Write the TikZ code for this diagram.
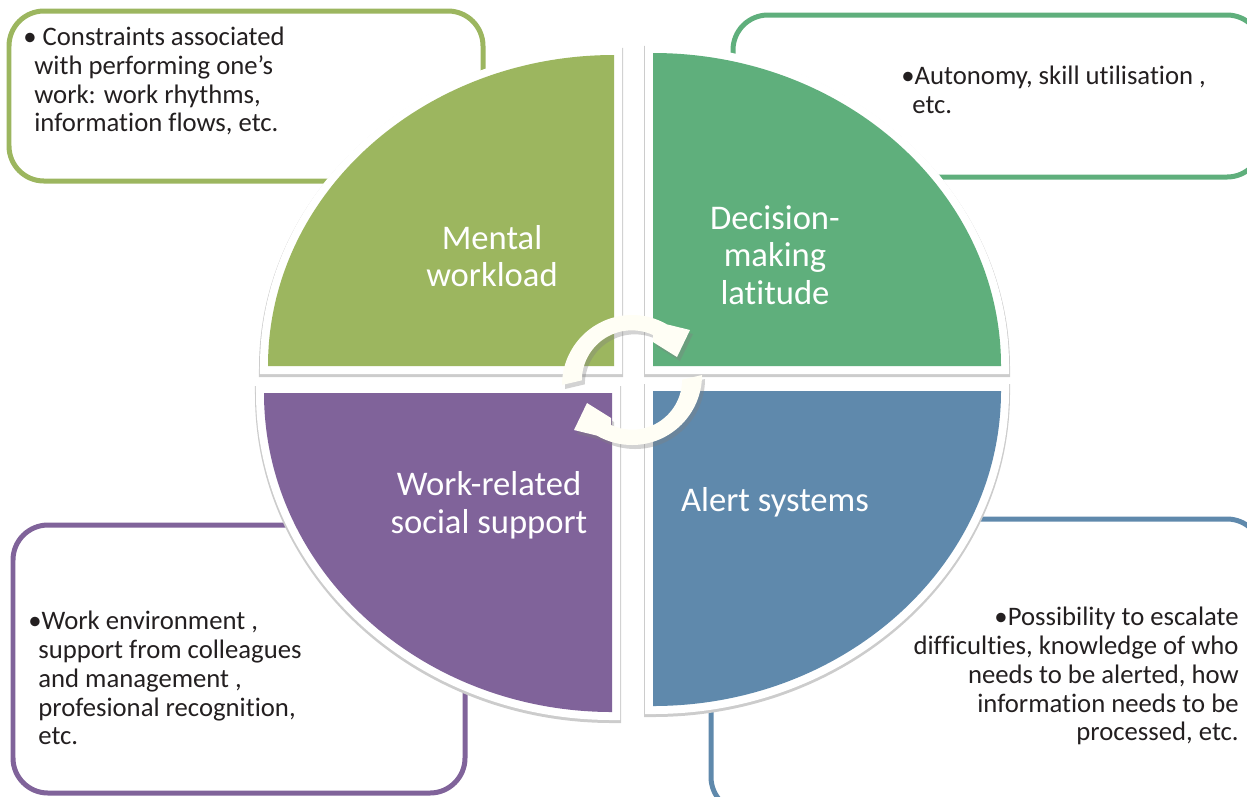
\documentclass[tikz,border=0pt]{standalone}
\usepackage{fontspec}
\setmainfont[Ligatures=NoCommon]{Carlito}
\usepackage{tikz}

\definecolor{mentalcol}{HTML}{9CB65F}
\definecolor{decisioncol}{HTML}{5FAF7C}
\definecolor{supportcol}{HTML}{80639A}
\definecolor{alertcol}{HTML}{5F89AC}
\definecolor{bodycol}{HTML}{231F20}

\tikzset{
    frame/.style={line width=0.1cm, rounded corners=0.7cm},
    wedge/.style={fill=#1, preaction={draw=gray!40, line width=0.36cm, transform canvas={yshift=-0.04cm}},
        preaction={draw=white, line width=0.32cm}},
    title/.style={text=white, align=center, inner sep=0pt, font=\fontsize{19.7}{21.5}\selectfont},
    body/.style={text=bodycol, inner sep=0pt, font=\fontsize{15.2}{16.45}\selectfont},
}

\begin{document}
\begin{tikzpicture}[x=0.02cm, y=-0.02cm]
    \clip (0,0) rectangle (1247,796);

    \draw[frame, draw=mentalcol]   (9,11)    rectangle (483,181);
    \draw[frame, draw=decisioncol] (733,15)  rectangle (1262,177);
    \draw[frame, draw=supportcol]  (13,525)  rectangle (465,793);
    \draw[frame, draw=alertcol]    (711,519) rectangle (1262,812);

    \path[wedge=supportcol]  (612,393) -- (264,393) arc[start angle=180, end angle=90, x radius=348, y radius=319] -- cycle;
    \path[wedge=alertcol]    (653,391) -- (1001,391) arc[start angle=0, end angle=90, x radius=348, y radius=315] -- cycle;
    \path[wedge=mentalcol]   (614,366) -- (268,366) arc[start angle=180, end angle=270, x radius=346, y radius=311] -- cycle;
    \path[wedge=decisioncol] (653,366) -- (1001,366) arc[start angle=0, end angle=-90, x radius=348, y radius=313] -- cycle;

    % the two arrows in the middle
    \foreach \a in {0,180} {
        \fill[gray, opacity=0.35, shift={(3,4)}, rotate around={\a:(632,380)}] (562,385) arc[start angle=180, end angle=300, radius=70] -- (690,330) -- (677,357) -- (653,342) -- (653,335) arc[start angle=295, end angle=180, radius=50] -- cycle;
    }
    \foreach \a in {0,180} {
        \fill[white!96!yellow, rotate around={\a:(632,380)}] (562,385) arc[start angle=180, end angle=300, radius=70] -- (690,330) -- (677,357) -- (653,342) -- (653,335) arc[start angle=295, end angle=180, radius=50] -- cycle;
    }

    \node[title] (mental)   at (492,256) {Mental\\workload};
    \node[title] (decision) at (775,255) {Decision-\\making\\latitude};
    \node[title] (support)  at (489,505) {Work-related\\social support};
    \node[title] (alert)    at (775,502) {Alert systems};

    \node[body, anchor=west, align=left] (mentaltext) at (23,81) {• Constraints associated\\\hspace*{0.22cm}with performing one's\\\hspace*{0.22cm}work: work rhythms,\\\hspace*{0.22cm}information flows, etc.};
    \node[body, anchor=west, align=left] (decisiontext) at (901,90) {•Autonomy, skill utilisation ,\\\hspace*{0.22cm}etc.};
    \node[body, anchor=west, align=left] (supporttext) at (28,678) {•Work environment ,\\\hspace*{0.2cm}support from colleagues\\\hspace*{0.2cm}and management ,\\\hspace*{0.2cm}profesional recognition,\\\hspace*{0.2cm}etc.};
    \node[body, anchor=east, align=right] (alerttext) at (1239,676) {•Possibility to escalate\\difficulties, knowledge of who\\needs to be alerted, how\\information needs to be\\processed, etc.};
\end{tikzpicture}
\end{document}
